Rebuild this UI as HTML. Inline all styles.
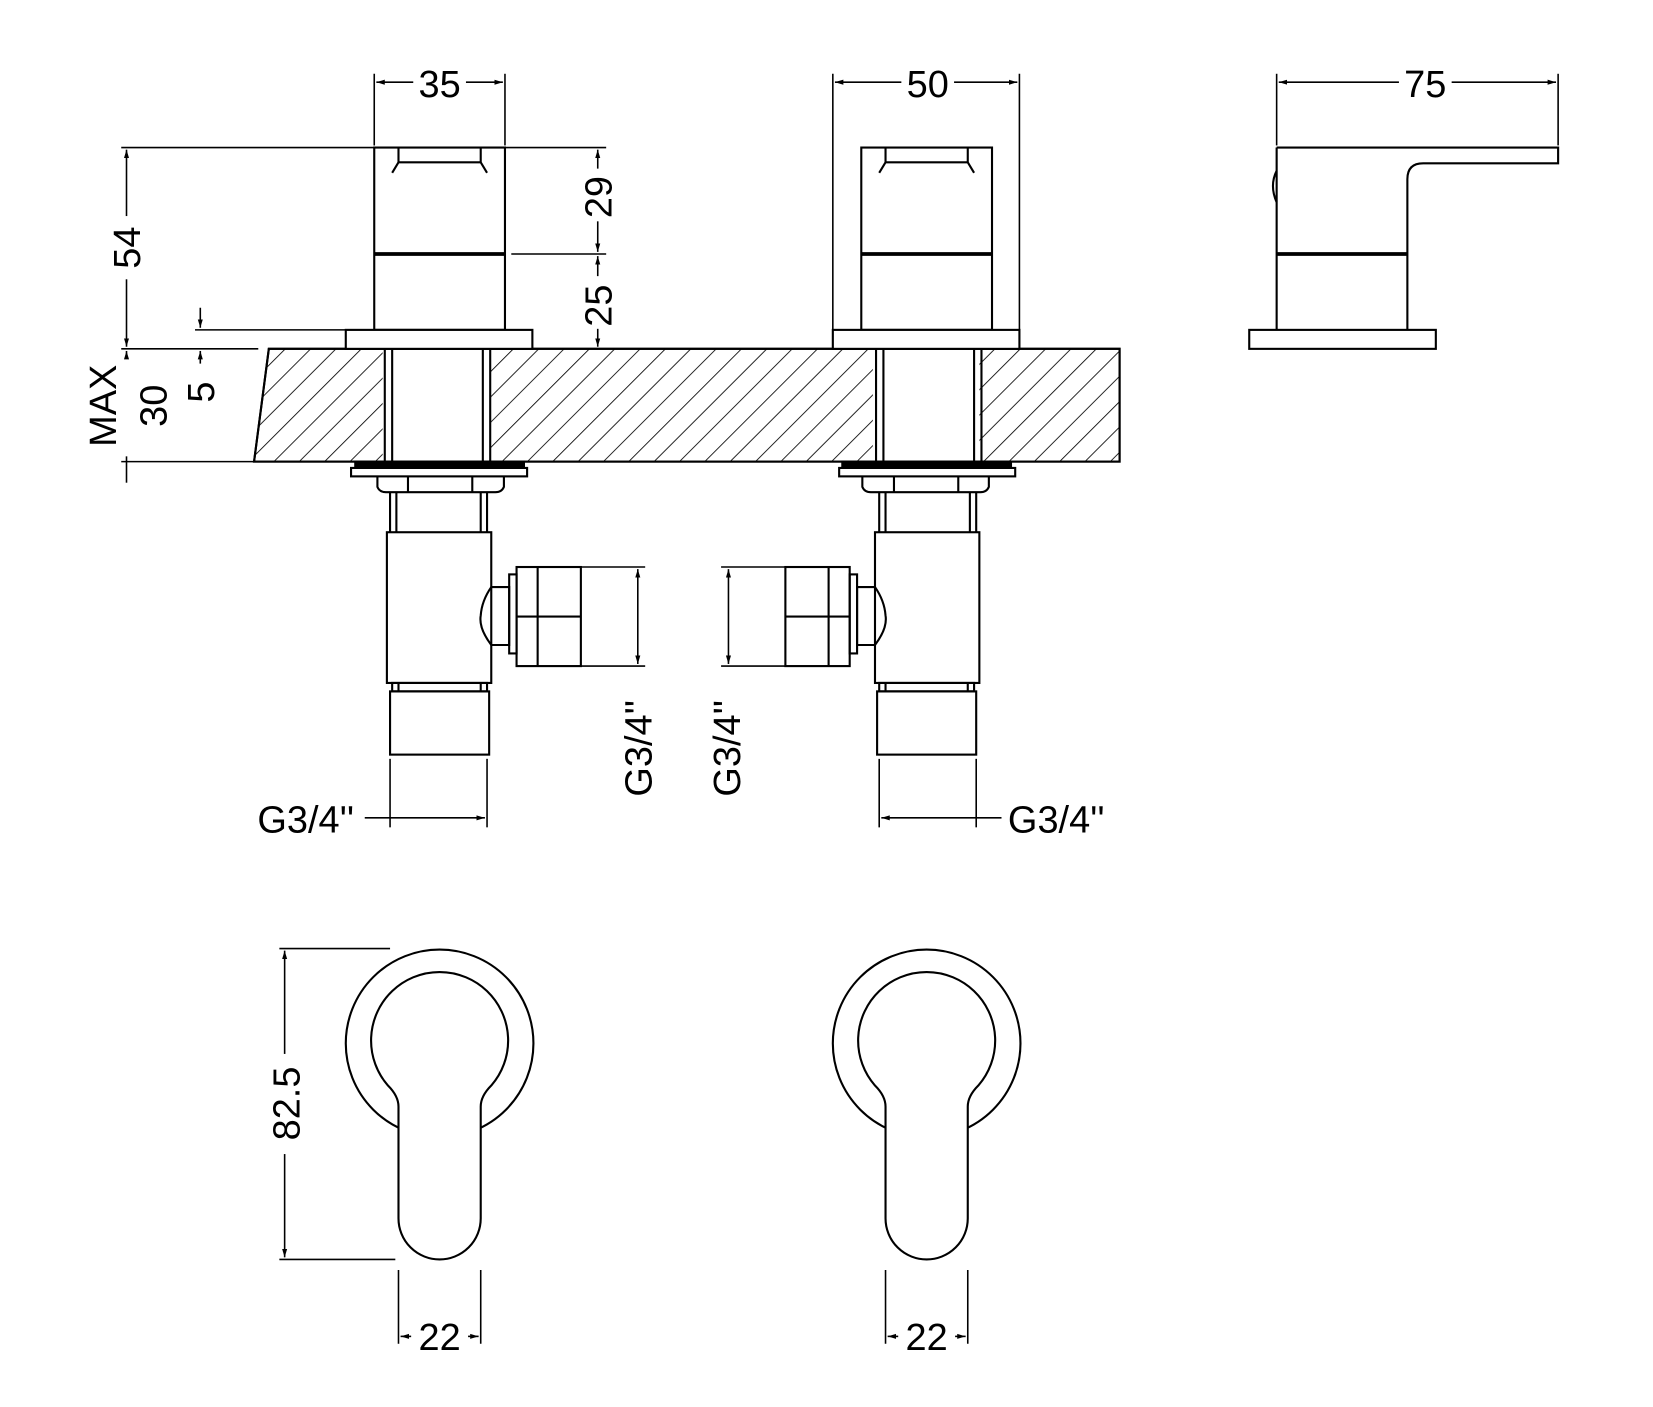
<!DOCTYPE html>
<html><head><meta charset="utf-8"><style>html,body{margin:0;padding:0;background:#fff}svg{display:block}</style></head>
<body>
<svg width="1653" height="1407" viewBox="0 0 1568 1335" preserveAspectRatio="none" xmlns="http://www.w3.org/2000/svg">
<defs>
<marker id="a" viewBox="0 0 10 10" refX="10" refY="5" markerWidth="8" markerHeight="8" orient="auto-start-reverse" markerUnits="userSpaceOnUse"><path d="M0,2 L10,5 L0,8 Z" fill="#000"/></marker>
<pattern id="h" patternUnits="userSpaceOnUse" width="17" height="17" patternTransform="rotate(45)"><line x1="0" y1="0" x2="0" y2="17" stroke="#000" stroke-width="1.6"/></pattern>
</defs>
<g fill="none" stroke="#000" stroke-width="2" font-family="Liberation Sans, sans-serif">

<polygon points="255,331 1062,331 1062,438 241,438" fill="url(#h)"/>
<rect x="363" y="332" width="102" height="105" fill="#fff" stroke="none"/>
<rect x="828" y="332" width="101" height="105" fill="#fff" stroke="none"/>
<polygon points="255,331 1062,331 1062,438 241,438"/>

<rect x="355" y="140" width="124" height="173" fill="#fff"/>
<line x1="355" y1="241" x2="479" y2="241" stroke-width="3.5"/>
<path d="M378,140 L378,154 L372,164 M456,140 L456,154 L462,164 M378,154 L456,154"/>
<rect x="328" y="313" width="177" height="18" fill="#fff"/>

<rect x="817" y="140" width="124" height="173" fill="#fff"/>
<line x1="817" y1="241" x2="941" y2="241" stroke-width="3.5"/>
<path d="M840,140 L840,154 L834,164 M918,140 L918,154 L924,164 M840,154 L918,154"/>
<rect x="790" y="313" width="177" height="18" fill="#fff"/>

<g id="low">
<line x1="365" y1="331" x2="365" y2="438"/><line x1="372" y1="331" x2="372" y2="438"/>
<line x1="458" y1="331" x2="458" y2="438"/><line x1="465" y1="331" x2="465" y2="438"/>
<rect x="337" y="438" width="160" height="6" fill="#000"/>
<rect x="333" y="444" width="167" height="8" fill="#fff"/>
<path d="M358,452 L358,462 Q360,467 366,467 L470,467 Q476,467 478,462 L478,452" />
<line x1="387" y1="452" x2="387" y2="467"/><line x1="448" y1="452" x2="448" y2="467"/>
<line x1="370" y1="467" x2="370" y2="505"/><line x1="376" y1="467" x2="376" y2="505"/>
<line x1="456" y1="467" x2="456" y2="505"/><line x1="462" y1="467" x2="462" y2="505"/>
<rect x="367" y="505" width="99" height="143" fill="#fff"/>
<path d="M466,557 L483,557 L483,612 L466,612 Q454,596 456,584 Q457,570 466,557 Z"/>
<rect x="483" y="545" width="7" height="75"/>
<rect x="490" y="538" width="61" height="94"/>
<line x1="510" y1="538" x2="510" y2="632"/><line x1="490" y1="585" x2="551" y2="585"/>
<rect x="372" y="648" width="90" height="8"/>
<line x1="378" y1="648" x2="378" y2="656"/><line x1="456" y1="648" x2="456" y2="656"/>
<rect x="370" y="656" width="94" height="60"/>
<line x1="551" y1="538" x2="612" y2="538" stroke-width="1.5"/><line x1="551" y1="632" x2="612" y2="632" stroke-width="1.5"/>
<line x1="605" y1="540" x2="605" y2="630" stroke-width="1.5" marker-start="url(#a)" marker-end="url(#a)"/>
<line x1="370" y1="720" x2="370" y2="785" stroke-width="1.5"/><line x1="462" y1="720" x2="462" y2="785" stroke-width="1.5"/>
<line x1="346" y1="776" x2="460" y2="776" stroke-width="1.5" marker-end="url(#a)"/>
</g>
<use href="#low" transform="translate(1296,0) scale(-1,1)"/>

<g stroke-width="1.5">
<line x1="355" y1="70" x2="355" y2="138"/><line x1="479" y1="70" x2="479" y2="138"/>
<line x1="357" y1="78" x2="392" y2="78" marker-start="url(#a)"/><line x1="442" y1="78" x2="477" y2="78" marker-end="url(#a)"/>
<line x1="790" y1="70" x2="790" y2="313"/><line x1="967" y1="70" x2="967" y2="313"/>
<line x1="792" y1="78" x2="855" y2="78" marker-start="url(#a)"/><line x1="905" y1="78" x2="965" y2="78" marker-end="url(#a)"/>
<line x1="1211" y1="70" x2="1211" y2="138"/><line x1="1478" y1="70" x2="1478" y2="138"/>
<line x1="1213" y1="78" x2="1327" y2="78" marker-start="url(#a)"/><line x1="1377" y1="78" x2="1476" y2="78" marker-end="url(#a)"/>
<line x1="115" y1="140" x2="355" y2="140"/><line x1="115" y1="331" x2="245" y2="331"/><line x1="115" y1="438" x2="240" y2="438"/>
<line x1="120" y1="142" x2="120" y2="205" marker-start="url(#a)"/><line x1="120" y1="265" x2="120" y2="329" marker-end="url(#a)"/>
<line x1="120" y1="333" x2="120" y2="340" marker-start="url(#a)"/><line x1="120" y1="433" x2="120" y2="458"/>
<line x1="185" y1="313" x2="328" y2="313"/>
<line x1="190" y1="292" x2="190" y2="311" marker-end="url(#a)"/><line x1="190" y1="333" x2="190" y2="345" marker-start="url(#a)"/>
<line x1="479" y1="140" x2="575" y2="140"/><line x1="485" y1="241" x2="575" y2="241"/>
<line x1="567" y1="142" x2="567" y2="160" marker-start="url(#a)"/><line x1="567" y1="210" x2="567" y2="239" marker-end="url(#a)"/>
<line x1="567" y1="243" x2="567" y2="262" marker-start="url(#a)"/><line x1="567" y1="312" x2="567" y2="329" marker-end="url(#a)"/>
</g>

<path d="M1211,140 L1478,140 L1478,155 L1350,155 Q1335,155 1335,170 L1335,313 M1211,140 L1211,313"/>
<line x1="1211" y1="241" x2="1335" y2="241" stroke-width="3.5"/>
<path d="M1211,162 Q1204,176 1211,192"/>
<rect x="1185" y="313" width="177" height="18"/>

<g id="hd">
<circle cx="417" cy="990" r="89"/>
<path d="M378,1050 L378,1156 A39,39 0 0 0 456,1156 L456,1050 Q456,1040 466,1030 A65,65 0 1 0 368,1030 Q378,1040 378,1050 Z" fill="#fff"/>
<g stroke-width="1.5">
<line x1="378" y1="1205" x2="378" y2="1275"/><line x1="456" y1="1205" x2="456" y2="1275"/>
<line x1="380" y1="1268" x2="390" y2="1268" marker-start="url(#a)"/><line x1="444" y1="1268" x2="454" y2="1268" marker-end="url(#a)"/>
</g>
</g>
<use href="#hd" transform="translate(462,0)"/>
<g stroke-width="1.5">
<line x1="265" y1="900" x2="370" y2="900"/><line x1="265" y1="1195" x2="375" y2="1195"/>
<line x1="270" y1="902" x2="270" y2="1000" marker-start="url(#a)"/><line x1="270" y1="1095" x2="270" y2="1193" marker-end="url(#a)"/>
</g>
</g>

<g font-family="Liberation Sans, sans-serif" font-size="36" fill="#000" text-anchor="middle">
<text x="417" y="92">35</text>
<text x="880" y="92">50</text>
<text x="1352" y="92">75</text>
<text x="417" y="1281">22</text>
<text x="879" y="1281">22</text>
<text x="290" y="790">G3/4''</text>
<text x="1002" y="790">G3/4''</text>
<text transform="translate(133,235) rotate(-90)">54</text>
<text transform="translate(580,187) rotate(-90)">29</text>
<text transform="translate(580,290) rotate(-90)">25</text>
<text transform="translate(203,372) rotate(-90)">5</text>
<text transform="translate(158,385) rotate(-90)">30</text>
<text transform="translate(110,385) rotate(-90)">MAX</text>
<text transform="translate(618,710) rotate(-90)">G3/4''</text>
<text transform="translate(702,710) rotate(-90)">G3/4''</text>
<text transform="translate(284,1047) rotate(-90)">82.5</text>
</g>
</svg>
</body></html>
